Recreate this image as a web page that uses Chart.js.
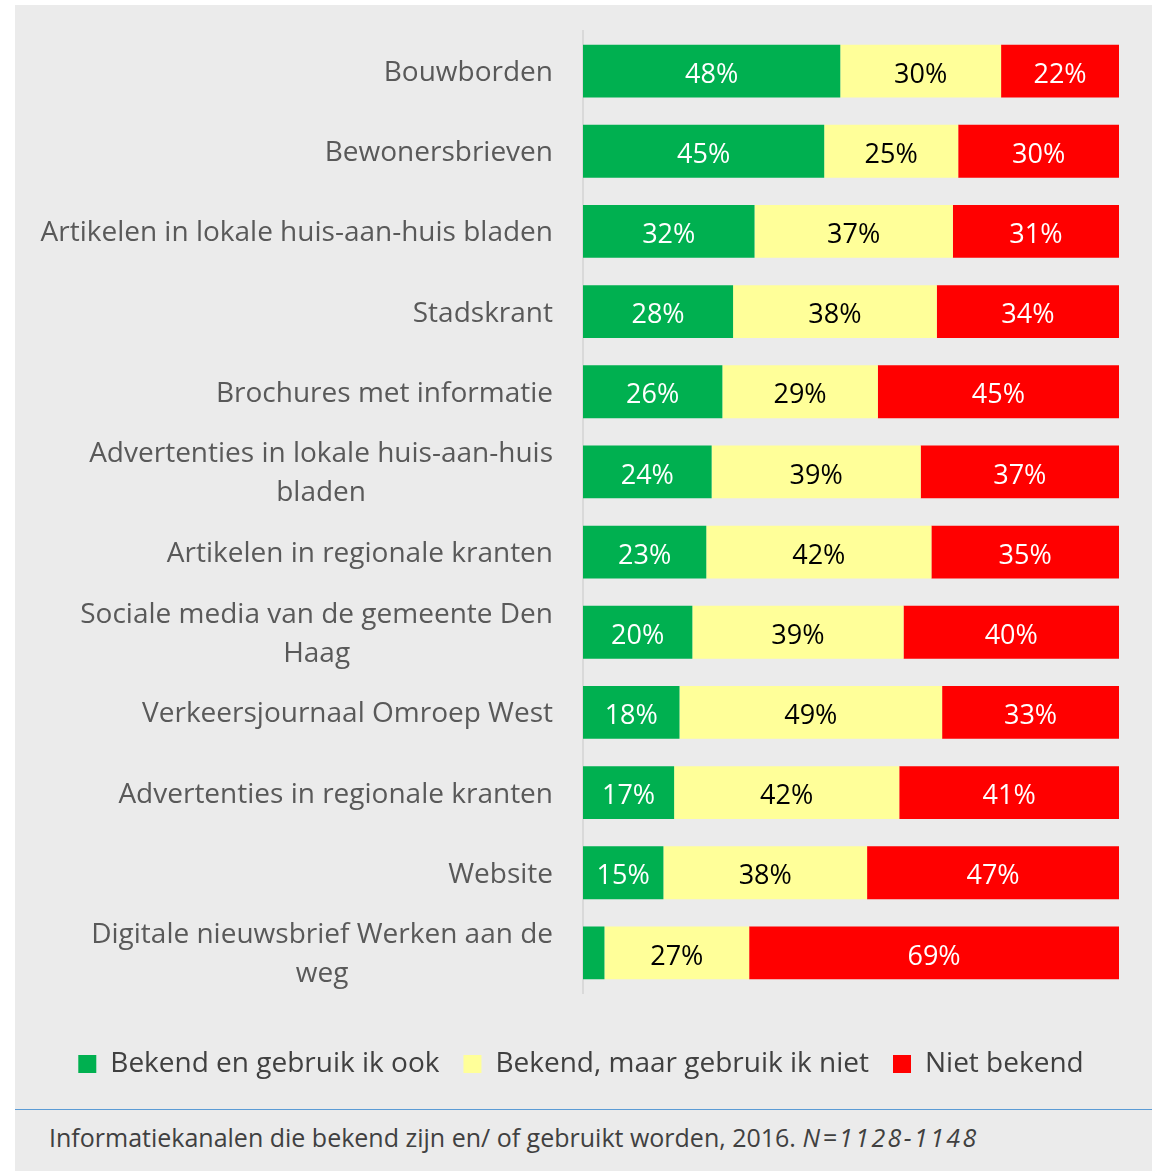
<!DOCTYPE html>
<html>
<head>
<meta charset="utf-8">
<script src="https://cdn.jsdelivr.net/npm/chart.js@4/dist/chart.umd.min.js"></script>
<style>
    body { margin: 0; background: #ffffff; font-family: "Open Sans", sans-serif; }
    .panel { position: absolute; left: 15px; top: 5px; width: 1137px; height: 1166px; background: #ebebeb; }
    .chart-box { position: absolute; left: 0; top: 0; width: 1137px; height: 1100px; }
    .rule { position: absolute; left: 0; top: 1104px; width: 1137px; height: 0; border-top: 1.5px solid #5b9bd5; }
    .caption { position: absolute; left: 34px; top: 1115px; font-size: 25px; color: #404040; white-space: nowrap; }
    .caption i { letter-spacing: 2.4px; }
</style>
</head>
<body>
<div class="panel">
    <div class="chart-box"><canvas id="channels_chart"></canvas></div>
    <div class="rule"></div>
    <div class="caption">Informatiekanalen die bekend zijn en/ of gebruikt worden, 2016. <i>N=1128-1148</i></div>
</div>
<script>
const categories = [
    'Bouwborden',
    'Bewonersbrieven',
    'Artikelen in lokale huis-aan-huis bladen',
    'Stadskrant',
    'Brochures met informatie',
    ['Advertenties in lokale huis-aan-huis', 'bladen'],
    'Artikelen in regionale kranten',
    ['Sociale media van de gemeente Den', 'Haag'],
    'Verkeersjournaal Omroep West',
    'Advertenties in regionale kranten',
    'Website',
    ['Digitale nieuwsbrief Werken aan de', 'weg']
];
const seriesNames = ['Bekend en gebruik ik ook', 'Bekend, maar gebruik ik niet', 'Niet bekend'];
const knownAndUsed = [48, 45, 32, 28, 26, 24, 23, 20.4, 18, 17, 15, 4];
const knownNotUsed = [30, 25, 37, 38, 29, 39, 42, 39.4, 49, 42, 38, 27];
const notKnown = [22, 30, 31, 34, 45, 37, 35, 40.2, 33, 41, 47, 69];

const seriesColors = ['#00b050', '#ffff99', '#ff0000'];
const labelColors = ['#ffffff', '#000000', '#ffffff'];
const FONT = '"Open Sans", sans-serif';

// percentages inside the bars
const barLabels = {
    id: 'barLabels',
    afterDatasetsDraw(chart) {
        const ctx = chart.ctx;
        ctx.save();
        ctx.font = '27px ' + FONT;
        ctx.textAlign = 'center';
        ctx.textBaseline = 'middle';
        chart.data.datasets.forEach((ds, i) => {
            const meta = chart.getDatasetMeta(i);
            meta.data.forEach((bar, j) => {
                const value = ds.data[j];
                if (value < 5) return; // too narrow, no label
                const p = bar.getProps(['x', 'y', 'base'], true);
                ctx.fillStyle = labelColors[i];
                ctx.fillText(Math.round(value) + '%', (p.x + p.base) / 2, p.y + 4);
            });
        });
        ctx.restore();
    }
};

// category names: block right aligned, lines centred inside it
const categoryLabels = {
    id: 'categoryLabels',
    afterDraw(chart) {
        const ctx = chart.ctx;
        const yScale = chart.scales.y;
        const right = chart.chartArea.left - 30;
        const lineHeight = 39;
        ctx.save();
        ctx.font = '28px ' + FONT;
        ctx.fillStyle = '#595959';
        ctx.textAlign = 'center';
        ctx.textBaseline = 'middle';
        chart.data.labels.forEach((label, j) => {
            const lines = Array.isArray(label) ? label : [label];
            const blockWidth = Math.max(...lines.map(l => ctx.measureText(l).width));
            const cx = right - blockWidth / 2;
            const cy = yScale.getPixelForTick(j) + 2;
            const top = cy - (lines.length - 1) * lineHeight / 2;
            lines.forEach((line, k) => {
                ctx.fillText(line, cx, top + k * lineHeight);
            });
        });
        ctx.restore();
    }
};

const datasets = [knownAndUsed, knownNotUsed, notKnown].map((values, i) => ({
    label: seriesNames[i],
    data: values,
    backgroundColor: seriesColors[i],
    borderWidth: 0,
    barPercentage: 0.66,
    categoryPercentage: 1
}));

new Chart(document.getElementById('channels_chart'), {
    type: 'bar',
    data: { labels: categories, datasets: datasets },
    options: {
        indexAxis: 'y',
        responsive: true,
        maintainAspectRatio: false,
        animation: false,
        layout: { padding: { left: 28, right: 33, top: 26, bottom: 17 } },
        scales: {
            x: {
                stacked: true,
                min: 0,
                max: 100,
                display: false
            },
            y: {
                stacked: true,
                grid: { display: false, drawTicks: false },
                border: { display: true, color: '#d9d9d9', width: 2 },
                ticks: { display: false },
                afterFit(scale) {
                    scale.width = 540; // room for the category names
                }
            }
        },
        plugins: {
            legend: {
                position: 'bottom',
                // empty title only pushes the items down a bit
                title: { display: true, text: '', font: { size: 10 }, padding: { top: 21, bottom: 0 } },
                labels: {
                    boxWidth: 18,
                    boxHeight: 18,
                    padding: 24,
                    color: '#404040',
                    font: { family: FONT, size: 28 }
                }
            },
            tooltip: { enabled: false }
        }
    },
    plugins: [barLabels, categoryLabels]
});
</script>
</body>
</html>
